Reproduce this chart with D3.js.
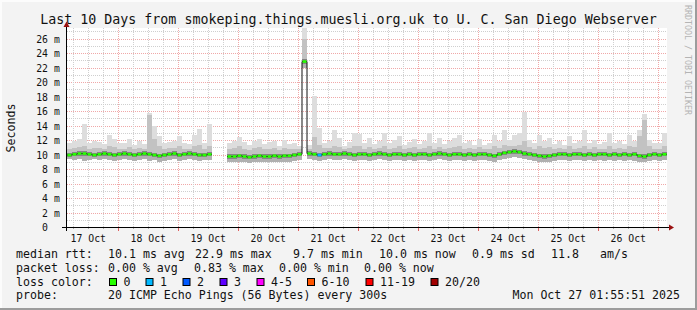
<!DOCTYPE html>
<html>
<head>
<meta charset="utf-8">
<script src="https://cdn.jsdelivr.net/npm/d3@7"></script>
<style>
  body { margin: 0; background: #f3f3f3; }
  svg text { font-family: "DejaVu Sans Mono", monospace; }
</style>
</head>
<body>
<svg id="chart" width="697" height="310"></svg>
<script>
// ---- data: 2-hour bins starting 17 Oct 03:30, values in ms ----
const binHours = 2;

const medianRtt = [
  10.0,10.1,10.2,10.2,10.1,10.0,10.1,10.2,10.1,10.0, 10.1,10.2,10.1,10.0,10.1,10.2,10.1,10.0,9.9,10.0,
  10.1,10.2,10.0,10.1,10.2,10.1,10.0,10.0,10.1,
  null,null,null,
  9.8,9.8,9.9,9.8,9.7,9.8,9.9,9.8,9.8,9.9,9.8,9.9,9.9,10.0,10.1,
  22.9,
  10.2,10.1,10.0,10.1,10.2,10.1,10.1,10.2,10.1,10.0, 10.1,10.1,10.0,10.1,10.2,10.1,10.0,10.1,10.1,10.0,
  10.1,10.0,10.1,10.1,10.0,10.1,10.2,10.1,10.0,10.1, 10.1,10.0,10.1,10.0,10.1,10.1,10.0,9.9,10.1,10.3,
  10.4,10.5,10.4,10.2,10.1,10.0,9.9,9.8,9.9,10.0, 10.1,10.1,10.0,10.1,10.1,10.0,10.1,10.0,10.1,10.1,
  10.0,10.1,10.0,10.1,10.0,10.1,9.9,9.8,10.0,10.1, 10.0,10.1
];

const smokeLow = [
  9.4,9.3,9.4,9.2,9.3,9.4,9.3,9.4,9.3,9.2, 9.3,9.4,9.3,9.2,9.3,9.4,9.2,9.3,9.1,9.2,
  9.3,9.4,9.2,9.3,9.4,9.3,9.2,9.3,9.3,
  null,null,null,
  9.0,9.1,9.1,9.0,8.9,9.1,9.1,9.0,9.1,9.1,9.0,9.1,9.1,9.2,9.3,
  22.0,
  9.4,9.3,9.2,9.3,9.4,9.3,9.3,9.4,9.3,9.2, 9.3,9.3,9.2,9.3,9.4,9.3,9.2,9.3,9.3,9.2,
  9.3,9.2,9.3,9.3,9.2,9.3,9.4,9.3,9.2,9.3, 9.3,9.2,9.3,9.2,9.3,9.3,9.2,9.1,9.3,9.5,
  9.6,9.7,9.6,9.4,9.3,9.2,9.1,9.0,9.1,9.2, 9.3,9.3,9.2,9.3,9.3,9.2,9.3,9.2,9.3,9.2,
  9.3,9.2,9.3,9.2,9.3,9.2,9.1,9.0,9.2,9.3, 9.2,9.3
];

const smokeMid = [
  10.9,11.0,11.1,11.3,10.9,11.0,11.0,10.8,11.2,11.1, 10.9,10.9,11.1,10.8,11.0,10.9,15.5,12.2,11.2,10.9,
  11.0,11.0,11.3,10.9,10.8,11.2,11.4,10.9,11.3,
  null,null,null,
  10.8,11.0,11.2,10.9,10.7,11.0,11.1,10.8,10.9,11.0,10.7,11.0,10.8,10.9,10.8,
  26.0,
  10.9,12.5,11.4,11.0,11.0,11.3,11.1,10.8,11.0,11.2, 11.2,10.9,11.1,10.9,11.0,11.3,10.9,11.0,11.2,10.8,
  11.0,11.1,10.9,11.0,11.3,10.9,11.1,10.9,11.0,11.1, 11.2,10.9,11.0,10.8,11.1,10.8,10.9,11.2,11.0,11.4,
  11.2,11.3,11.4,12.0,11.1,10.9,11.2,11.0,11.1,10.8, 11.0,10.8,11.2,10.9,11.0,11.3,10.9,11.1,10.8,10.9,
  11.3,10.9,11.0,10.8,11.2,11.1,12.6,14.8,11.2,10.9, 10.9,11.2
];

const smokeTop = [
  11.7,12.0,12.2,14.3,11.7,12.0,11.8,11.5,12.7,12.2, 11.7,11.6,12.2,11.4,12.0,11.5,15.8,14.0,12.6,11.7,
  11.8,11.9,12.6,11.7,11.5,12.8,13.6,11.7,14.3,
  null,null,null,
  11.6,12.0,12.5,11.8,11.4,11.9,12.2,11.5,11.8,12.0,11.3,12.1,11.5,11.7,11.2,
  28.0,
  11.4,18.1,13.8,11.7,12.0,13.5,12.4,11.3,11.8,13.1, 12.9,11.6,12.3,11.5,11.9,13.0,11.6,12.1,12.6,11.4,
  11.8,12.2,11.5,12.0,13.1,11.7,12.4,11.5,11.9,12.3, 12.8,11.6,12.0,11.4,12.2,11.4,11.7,12.8,11.9,13.5,
  12.1,12.7,13.1,16.0,12.1,11.6,12.8,12.0,12.4,11.5, 11.9,11.4,12.6,11.7,11.9,13.4,11.6,12.1,11.5,11.8,
  13.1,11.7,11.9,11.5,12.8,12.0,13.5,15.6,12.1,11.7, 11.6,13.0
];

// bins with lost pings (everything else lost 0 of 20)
const lossBin = [50];
const lossLost = [1];

const lossLabels = ["0", "1", "2", "3", "4-5", "6-10", "11-19", "20/20"];
const lossUpper  = [0, 1, 2, 3, 5, 10, 19, 20];
const lossColors = ["#26ff00", "#00b8ff", "#0059ff", "#5e00ff", "#ff00fe", "#ff5500", "#ff0000", "#a10000"];

const yTicks = [0, 2, 4, 6, 8, 10, 12, 14, 16, 18, 20, 22, 24, 26];

const title = "Last 10 Days from smokeping.things.muesli.org.uk to U. C. San Diego Webserver";
const rttStats  = ["10.1 ms avg", "22.9 ms max", "9.7 ms min", "10.0 ms now", "0.9 ms sd", "11.8", "am/s"];
const lossStats = ["0.00 % avg", "0.83 % max", "0.00 % min", "0.00 % now"];
const probeText = "20 ICMP Echo Pings (56 Bytes) every 300s";
const stampText = "Mon Oct 27 01:55:51 2025";

// ---- scales ----
const hourMs = 3600e3;
const t0 = Date.UTC(2025, 9, 17, 3, 30);
const t1 = t0 + 240 * hourMs;

const x = d3.scaleUtc().domain([t0, t1]).range([67, 667]);
const y = d3.scaleLinear().domain([0, 27.6]).range([227.5, 27.5]);
const px = v => Math.floor(v) + 0.5;

const svg = d3.select("#chart");

// frame with 3d shading like rrdtool
svg.append("rect").attr("width", 697).attr("height", 310).attr("fill", "#f3f3f3");
svg.append("rect").attr("width", 697).attr("height", 2).attr("fill", "#fcfcfc");
svg.append("rect").attr("width", 2).attr("height", 310).attr("fill", "#fcfcfc");
svg.append("rect").attr("x", 695).attr("width", 2).attr("height", 310).attr("fill", "#9c9c9c");
svg.append("rect").attr("y", 308).attr("width", 697).attr("height", 2).attr("fill", "#9c9c9c");

// plot canvas
svg.append("rect").attr("x", 67).attr("y", 28).attr("width", 600).attr("height", 200).attr("fill", "#fff");

svg.append("clipPath").attr("id", "plot")
  .append("rect").attr("x", 67).attr("y", 28).attr("width", 600).attr("height", 200);

// ---- grid ----
const grid = svg.append("g").attr("shape-rendering", "crispEdges").attr("stroke-dasharray", "1,1");

const hLines = d3.range(1, 28);
grid.selectAll(".hg").data(hLines).join("line")
  .attr("x1", 67).attr("x2", 667)
  .attr("y1", d => px(y(d))).attr("y2", d => px(y(d)))
  .attr("stroke", d => d % 2 === 0 ? "#f0a8a8" : "#cfcfcf");

const vLines = d3.utcHour.every(6).range(new Date(t0), new Date(t1));
grid.selectAll(".vg").data(vLines).join("line")
  .attr("x1", d => px(x(d))).attr("x2", d => px(x(d)))
  .attr("y1", 28).attr("y2", 228)
  .attr("stroke", d => d.getUTCHours() === 0 ? "#f0a8a8" : "#cfcfcf");

// ---- smoke ----
const binMs = binHours * hourMs;
const bins = medianRtt.map((m, i) => ({
  i, t: t0 + i * binMs, med: m, lo: smokeLow[i], mid: smokeMid[i], top: smokeTop[i]
})).filter(d => d.med != null);

const bands = [];
bins.forEach(d => {
  bands.push({ d, a: d.lo, b: d.med, c: "#b0b0b0" });
  bands.push({ d, a: d.med, b: d.mid, c: "#c2c2c2" });
  bands.push({ d, a: d.mid, b: d.top, c: "#dddddd" });
  bands.push({ d, a: d.med - 0.3, b: d.med + 0.3, c: "#858585" });
});

const plot = svg.append("g").attr("clip-path", "url(#plot)");

plot.selectAll(".smoke").data(bands).join("rect")
  .attr("shape-rendering", "crispEdges")
  .attr("x", b => x(b.d.t))
  .attr("width", b => x(b.d.t + binMs) - x(b.d.t))
  .attr("y", b => y(b.b))
  .attr("height", b => Math.max(0, y(b.a) - y(b.b)))
  .attr("fill", b => b.c);

// ---- median line: dark steps, loss coloured segments on top ----
const stepPts = [];
medianRtt.forEach((m, i) => {
  stepPts.push([t0 + i * binMs, m]);
  stepPts.push([t0 + (i + 1) * binMs, m]);
});
const stepLine = d3.line()
  .defined(p => p[1] != null)
  .x(p => x(p[0]))
  .y(p => y(p[1]));

plot.append("path")
  .attr("d", stepLine(stepPts))
  .attr("fill", "none")
  .attr("stroke", "#111")
  .attr("stroke-width", 1);

function lossColor(i) {
  const k = lossBin.indexOf(i);
  const lost = k < 0 ? 0 : lossLost[k];
  return lossColors[lossUpper.findIndex(u => lost <= u)];
}

plot.selectAll(".med").data(bins).join("line")
  .attr("x1", d => x(d.t) + 0.5)
  .attr("x2", d => x(d.t + binMs) - 0.5)
  .attr("y1", d => y(d.med)).attr("y2", d => y(d.med))
  .attr("stroke", d => lossColor(d.i))
  .attr("stroke-width", 2.6);

// ---- axes ----
const axis = svg.append("g").attr("shape-rendering", "crispEdges");
axis.append("line").attr("x1", 62).attr("x2", 670).attr("y1", 227.5).attr("y2", 227.5).attr("stroke", "#000");
axis.append("line").attr("x1", 66.5).attr("x2", 66.5).attr("y1", 231).attr("y2", 25).attr("stroke", "#000");
axis.selectAll(".xt").data(vLines).join("line")
  .attr("x1", d => px(x(d))).attr("x2", d => px(x(d)))
  .attr("y1", 228).attr("y2", d => d.getUTCHours() === 0 ? 231 : 229)
  .attr("stroke", d => d.getUTCHours() === 0 ? "#e06060" : "#aaa");

svg.append("path").attr("d", "M669,224.5 L674,227.5 L669,230.5 Z").attr("fill", "#9a1010");
svg.append("path").attr("d", "M63.5,27 L66.5,21.5 L69.5,27 Z").attr("fill", "#9a1010");

// y tick labels
const yl = svg.append("g").attr("font-size", "9.8px").attr("fill", "#111");
yl.selectAll(".yn").data(yTicks).join("text")
  .attr("x", 48).attr("y", d => px(y(d)) + 3.5)
  .attr("text-anchor", "end")
  .text(d => d);
yl.selectAll(".yu").data(yTicks.filter(d => d !== 0)).join("text")
  .attr("x", 54).attr("y", d => px(y(d)) + 3.5)
  .text("m");

// x labels at noon
const noons = d3.utcDay.range(new Date(t0 - 24 * hourMs), new Date(t1))
  .map(d => new Date(+d + 12 * hourMs))
  .filter(d => +d > t0 && +d < t1);
const fmt = d3.utcFormat("%d %b");
svg.append("g").attr("font-size", "9.8px").attr("fill", "#111")
  .selectAll("text").data(noons).join("text")
  .attr("x", d => x(d)).attr("y", 242)
  .attr("text-anchor", "middle")
  .text(d => fmt(d));

// y axis title
svg.append("text")
  .attr("transform", "translate(15,128) rotate(-90)")
  .attr("text-anchor", "middle")
  .attr("font-size", "11.6px").attr("fill", "#111")
  .text("Seconds");

// title
svg.append("text")
  .attr("x", 348.5).attr("y", 24)
  .attr("text-anchor", "middle")
  .attr("font-size", "13.3px").attr("fill", "#111")
  .text(title);

// watermark
svg.append("text")
  .attr("transform", "translate(685,5) rotate(90)")
  .attr("font-size", "8.3px").attr("fill", "#b4b4b4")
  .text("RRDTOOL / TOBI OETIKER");

// ---- legend ----
const leg = svg.append("g").attr("font-size", "11.6px").attr("fill", "#111");
const rowY = [258, 271.5, 285.5, 299];

leg.append("text").attr("x", 16).attr("y", rowY[0]).text("median rtt:");
const rttX = [108, 195, 293, 379, 472, 551, 600];
leg.selectAll(".rtt").data(rttStats).join("text")
  .attr("x", (d, i) => rttX[i]).attr("y", rowY[0]).text(d => d);

leg.append("text").attr("x", 16).attr("y", rowY[1]).text("packet loss:");
const lossX = [108, 194, 279, 364];
leg.selectAll(".pl").data(lossStats).join("text")
  .attr("x", (d, i) => lossX[i]).attr("y", rowY[1]).text(d => d);

leg.append("text").attr("x", 16).attr("y", rowY[2]).text("loss color:");
const boxX = [109, 145.5, 182.5, 219.5, 256.5, 307, 365.5, 430.5];
leg.selectAll(".lb").data(lossColors).join("rect")
  .attr("x", (d, i) => boxX[i] + 0.5).attr("y", 278.5)
  .attr("width", 7).attr("height", 7)
  .attr("fill", d => d).attr("stroke", "#000").attr("stroke-width", 1);
leg.selectAll(".ll").data(lossLabels).join("text")
  .attr("x", (d, i) => boxX[i] + 14.5).attr("y", rowY[2]).text(d => d);

leg.append("text").attr("x", 16).attr("y", rowY[3]).text("probe:");
leg.append("text").attr("x", 108).attr("y", rowY[3]).text(probeText);
leg.append("text").attr("x", 680).attr("y", rowY[3]).attr("text-anchor", "end").text(stampText);
</script>
</body>
</html>
